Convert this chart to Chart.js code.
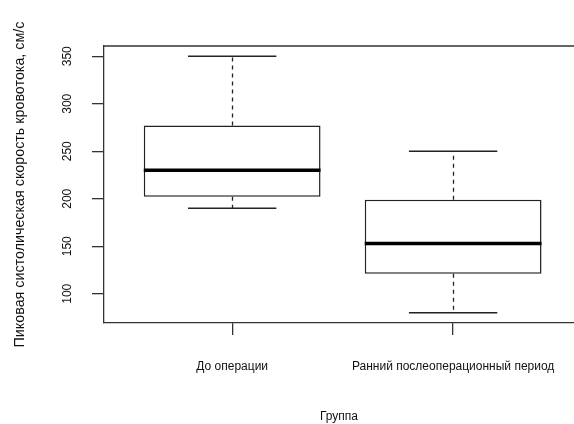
<!DOCTYPE html>
<html>
<head>
<meta charset="utf-8">
<script src="https://cdn.jsdelivr.net/npm/chart.js@4"></script>
<style>
  html, body { margin: 0; padding: 0; background: #fff; }
  #wrap { width: 574px; height: 424px; }
</style>
</head>
<body>
<div id="wrap"><canvas id="c" width="574" height="424"></canvas></div>
<script>
// Peak systolic blood flow velocity, two groups
const categories = ['До операции', 'Ранний послеоперационный период'];
const whiskerLow  = [190, 80];
const q1          = [202, 121];
const median      = [230, 153];
const q3          = [277, 199];
const whiskerHigh = [350, 250];
const yTicks      = [100, 150, 200, 250, 300, 350];

const FONT = '"Liberation Sans", Arial, sans-serif';
const INK = '#222';
const AXIS = '#333';

// Whiskers, staples, medians, frame top edge and vertical y tick labels
const boxExtras = {
  id: 'boxExtras',
  afterDatasetsDraw(chart) {
    const { ctx, chartArea, scales } = chart;
    const xs = scales.x, ys = scales.y;
    const stapleHalf = 0.2;
    const boxHalf = 0.4;
    ctx.save();
    categories.forEach((_, i) => {
      const cx = Math.round(xs.getPixelForValue(i + 1)) + 0.5;
      const sl = xs.getPixelForValue(i + 1 - stapleHalf);
      const sr = xs.getPixelForValue(i + 1 + stapleHalf);
      // dashed whiskers
      ctx.strokeStyle = INK;
      ctx.lineWidth = 1.3;
      ctx.setLineDash([4, 4]);
      ctx.beginPath();
      ctx.moveTo(cx, ys.getPixelForValue(q3[i]));
      ctx.lineTo(cx, ys.getPixelForValue(whiskerHigh[i]));
      ctx.moveTo(cx, ys.getPixelForValue(q1[i]));
      ctx.lineTo(cx, ys.getPixelForValue(whiskerLow[i]));
      ctx.stroke();
      // staples
      ctx.setLineDash([]);
      ctx.beginPath();
      ctx.moveTo(sl, ys.getPixelForValue(whiskerHigh[i]));
      ctx.lineTo(sr, ys.getPixelForValue(whiskerHigh[i]));
      ctx.moveTo(sl, ys.getPixelForValue(whiskerLow[i]));
      ctx.lineTo(sr, ys.getPixelForValue(whiskerLow[i]));
      ctx.stroke();
      // median
      ctx.strokeStyle = '#000';
      ctx.lineWidth = 3.5;
      ctx.lineCap = 'butt';
      ctx.beginPath();
      ctx.moveTo(xs.getPixelForValue(i + 1 - boxHalf), ys.getPixelForValue(median[i]));
      ctx.lineTo(xs.getPixelForValue(i + 1 + boxHalf), ys.getPixelForValue(median[i]));
      ctx.stroke();
    });
    // top edge of the frame
    ctx.strokeStyle = AXIS;
    ctx.lineWidth = 1.3;
    ctx.beginPath();
    ctx.moveTo(chartArea.left, chartArea.top);
    ctx.lineTo(chartArea.right, chartArea.top);
    ctx.stroke();
    // y tick labels, written vertically
    ctx.fillStyle = '#111';
    ctx.font = '12px ' + FONT;
    ctx.textAlign = 'center';
    ctx.textBaseline = 'middle';
    yTicks.forEach(v => {
      ctx.save();
      ctx.translate(67.5, ys.getPixelForValue(v));
      ctx.rotate(-Math.PI / 2);
      ctx.fillText(String(v), 0, 0);
      ctx.restore();
    });
    ctx.restore();
  }
};

new Chart(document.getElementById('c'), {
  type: 'bar',
  data: {
    datasets: [{
      data: categories.map((_, i) => ({ x: i + 1, y: [q1[i], q3[i]] })),
      backgroundColor: '#fff',
      borderColor: INK,
      borderWidth: 1.5,
      borderSkipped: false,
      barPercentage: 0.8,
      categoryPercentage: 1.0
    }]
  },
  options: {
    responsive: false,
    animation: false,
    devicePixelRatio: 1,
    layout: { padding: { top: 46, left: 0, right: 0, bottom: 0 } },
    plugins: { legend: { display: false }, tooltip: { enabled: false } },
    scales: {
      x: {
        type: 'linear',
        offset: false,
        min: 0.42,
        max: 2.547,
        afterBuildTicks: s => { s.ticks = categories.map((_, i) => ({ value: i + 1 })); },
        afterFit: s => { s.height = 101; s.paddingLeft = 0; s.paddingRight = 0; },
        grid: { display: true, offset: false, drawOnChartArea: false, drawTicks: true, tickLength: 12, color: AXIS, lineWidth: 1.3 },
        border: { display: true, color: AXIS, width: 1.3 },
        ticks: {
          autoSkip: false, maxRotation: 0, minRotation: 0, padding: 24,
          color: '#111', font: { family: FONT, size: 12 },
          callback: v => categories[v - 1]
        },
        title: {
          display: true, text: 'Группа', color: '#111',
          font: { family: FONT, size: 12 }, padding: { top: 0, bottom: 0 }
        }
      },
      y: {
        type: 'linear',
        min: 69.2,
        max: 360.8,
        afterBuildTicks: s => { s.ticks = yTicks.map(v => ({ value: v })); },
        afterFit: s => { s.width = 104; s.paddingTop = 0; s.paddingBottom = 0; },
        grid: { display: true, drawOnChartArea: false, drawTicks: true, tickLength: 12, color: AXIS, lineWidth: 1.3 },
        border: { display: true, color: AXIS, width: 1.3 },
        ticks: { display: false },
        title: {
          display: true, text: 'Пиковая систолическая скорость кровотока, см/с', color: '#111',
          font: { family: FONT, size: 14.3 }, padding: { top: 11.5, bottom: 0 }
        }
      }
    }
  },
  plugins: [boxExtras]
});
</script>
</body>
</html>
